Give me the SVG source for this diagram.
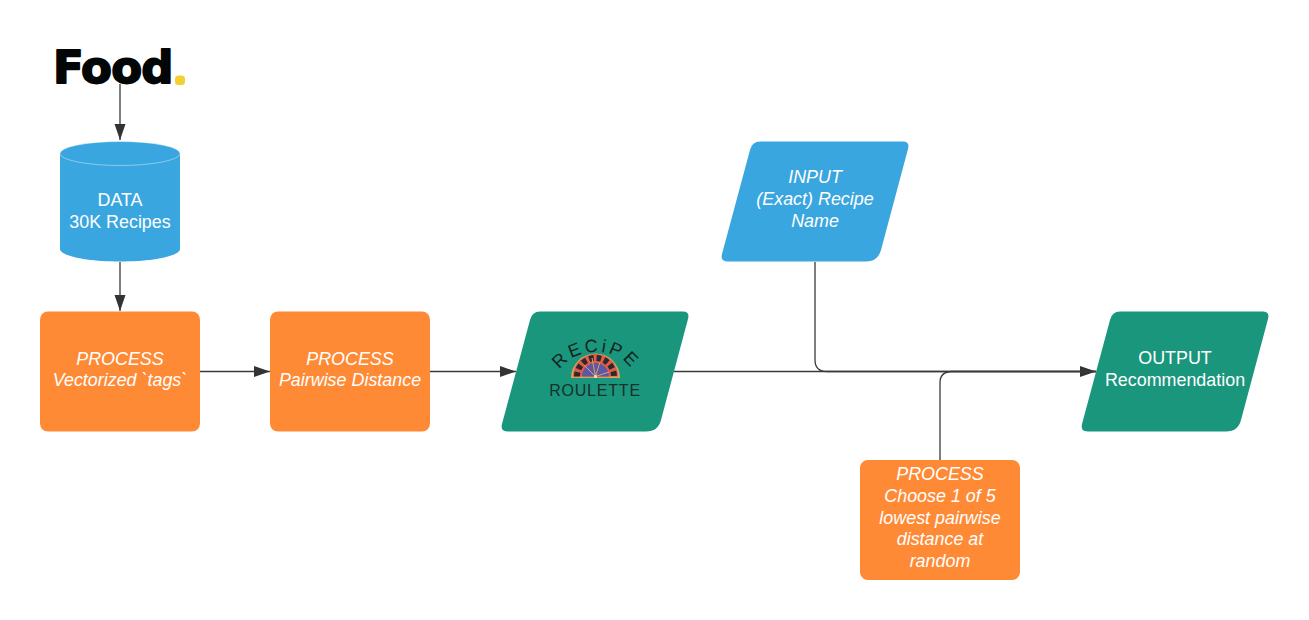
<svg xmlns="http://www.w3.org/2000/svg" xmlns:xlink="http://www.w3.org/1999/xlink" width="1309" height="620" viewBox="0 0 1309 620">
<style>
.t{font-family:"Liberation Sans",Arial,sans-serif;font-size:17.900px;fill:#fff;text-anchor:middle}
.i{font-style:italic}
.c{fill:none;stroke:#3a3a3a;stroke-width:1.300}
.blue{fill:#3aa6df}.orange{fill:#ff8a36}.green{fill:#1a967c}
</style>
<defs>
<marker id="a" markerUnits="userSpaceOnUse" markerWidth="16" markerHeight="14" refX="16" refY="7" orient="auto"><path d="M0 1.500L16 7L0 12.500z" fill="#333"/></marker>
<path id="arc" d="M556 383A40 31 0 0 1 636 383"/>
</defs>
<rect width="1309" height="620" fill="#fff"/>
<g id="connectors">
<path class="c" d="M120 84V140" marker-end="url(#a)"/>
<path class="c" d="M120 262V311" marker-end="url(#a)"/>
<path class="c" d="M200 371.500H270" marker-end="url(#a)"/>
<path class="c" d="M430 371.500H516" marker-end="url(#a)"/>
<path class="c" d="M674 371.500H1096" marker-end="url(#a)"/>
<path class="c" d="M815 262V360Q815 371.500 827 371.500H1096"/>
<path class="c" d="M940 460V383Q940 371.500 952 371.500H1096"/>
</g>
<g id="food-logo">
<text x="53" y="83" font-family="'DejaVu Sans',sans-serif" font-weight="700" font-size="45" letter-spacing="-0.800" fill="#020606" stroke="#020606" stroke-width="1.800" stroke-linejoin="round">Food</text>
<rect x="175" y="75.500" width="10" height="9.500" rx="3.500" fill="#f5d033"/>
</g>
<g id="data">
<path class="blue" d="M60 153.500V249C60 256 87 261.500 120 261.500S180 256 180 249V153.500z"/>
<ellipse class="blue" cx="120" cy="153.500" rx="60" ry="12" stroke="#fff" stroke-opacity="0.500" stroke-width="0.800"/>
<text class="t" x="120" y="206">DATA</text>
<text class="t" x="120" y="228">30K Recipes</text>
</g>
<g id="process-tags">
<rect class="orange" x="40" y="311.500" width="160" height="120" rx="8"/>
<text class="t i" x="120" y="365">PROCESS</text>
<text class="t i" x="120" y="386">Vectorized `tags`</text>
</g>
<g id="process-distance">
<rect class="orange" x="270" y="311.500" width="160" height="120" rx="8"/>
<text class="t i" x="350" y="365">PROCESS</text>
<text class="t i" x="350" y="386">Pairwise Distance</text>
</g>
<g id="recipe-roulette">
<path class="green" d="M540 311.500H683Q690 311.500 688 319L661 420Q658 431.500 646 431.500H508Q500 431.500 502 424L530 320Q532 311.500 540 311.500z"/>
<path d="M571 378A24.500 24.500 0 0 1 620 378z" fill="#dca35c"/>
<path d="M573 376.500A22.500 22.500 0 0 1 618 376.500z" fill="#df5b4c"/>
<path d="M577 376.500A18.500 18.500 0 0 1 614 376.500" fill="none" stroke="#2a2a2a" stroke-width="6" stroke-dasharray="4.500 3"/>
<path d="M582 376.500A13.500 13.500 0 0 1 609 376.500z" fill="#5c58a6"/>
<path d="M595.500 376.500L584 365M595.500 376.500L592 358M595.500 376.500L600 362M595.500 376.500L609 372" stroke="#dca35c" stroke-width="1" fill="none"/>
<circle cx="595.500" cy="376.500" r="1.500" fill="#f3e3c4"/>
<text font-family="'Liberation Sans',sans-serif" font-size="18" fill="#15231f" letter-spacing="3"><textPath xlink:href="#arc" href="#arc" startOffset="50%" text-anchor="middle">RECiPE</textPath></text>
<text x="595" y="396" font-family="'Liberation Sans',sans-serif" font-size="16" letter-spacing="0.800" fill="#16302b" text-anchor="middle">ROULETTE</text>
</g>
<g id="input">
<path class="blue" d="M760 141.500H903Q910 141.500 908 149L881 250Q878 261.500 866 261.500H728Q720 261.500 722 254L750 150Q752 141.500 760 141.500z"/>
<text class="t i" x="815" y="183">INPUT</text>
<text class="t i" x="815" y="205">(Exact) Recipe</text>
<text class="t i" x="815" y="227">Name</text>
</g>
<g id="output">
<path class="green" d="M1120 311.500H1263Q1270 311.500 1268 319L1241 420Q1238 431.500 1226 431.500H1088Q1080 431.500 1082 424L1110 320Q1112 311.500 1120 311.500z"/>
<text class="t" x="1175" y="364">OUTPUT</text>
<text class="t" x="1175" y="386">Recommendation</text>
</g>
<g id="process-choose">
<rect class="orange" x="860" y="460" width="160" height="120" rx="8"/>
<text class="t i" x="940" y="480">PROCESS</text>
<text class="t i" x="940" y="502">Choose 1 of 5</text>
<text class="t i" x="940" y="524">lowest pairwise</text>
<text class="t i" x="940" y="545">distance at</text>
<text class="t i" x="940" y="567">random</text>
</g>
</svg>
